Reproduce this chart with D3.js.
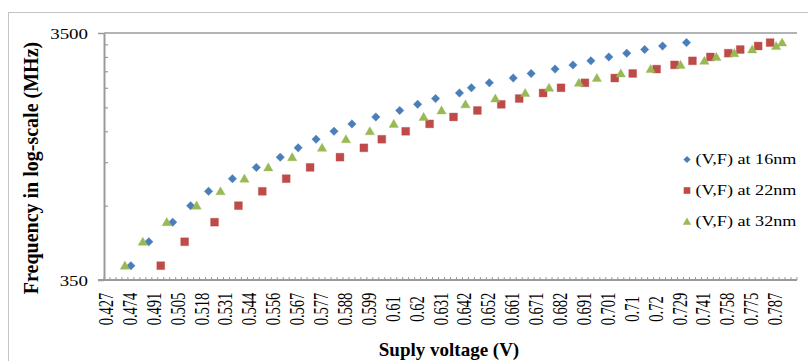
<!DOCTYPE html>
<html>
<head>
<meta charset="utf-8">
<script src="https://cdn.jsdelivr.net/npm/d3@7"></script>
<style>
  html, body { margin: 0; padding: 0; background: #ffffff; }
  svg { display: block; }
  text { font-family: "Liberation Serif", "Times New Roman", serif; fill: #000; }
</style>
</head>
<body>
<svg id="chart" width="808" height="361"></svg>
<script>
// ---------------- data ----------------
// Category axis: 116 voltage categories, every 4th is labelled
const categoryCount = 116;
const labelEvery = 4;
const xTickLabels = ["0.427","0.474","0.491","0.505","0.518","0.531","0.544","0.556","0.567",
  "0.577","0.588","0.599","0.61","0.62","0.631","0.642","0.652","0.661","0.671","0.682",
  "0.691","0.701","0.71","0.72","0.729","0.741","0.758","0.775","0.787"];

// Frequency levels (MHz) shared by all three series
const freqMHz = [400,500,600,700,800,900,1000,1100,1200,1300,1400,1500,1600,1700,1800,
  1900,2000,2100,2200,2300,2400,2500,2600,2700,2800,2900,3000,3100,3200];

// Category index (voltage position) of each point
const cat16nm = [4,7,11,14,17,21,25,29,32,35,38,41,45,49,52,55,59,61,64,68,71,75,78,81,84,87,90,93,97];
const cat22nm = [9,13,18,22,26,30,34,39,43,46,50,54,58,62,66,69,73,76,80,85,88,92,95,98,101,104,106,109,111];
const cat32nm = [3,6,10,15,19,23,27,31,36,40,44,48,53,56,60,65,70,74,79,82,86,91,96,100,102,105,108,112,113];

const seriesNames = ["(V,F) at 16nm","(V,F) at 22nm","(V,F) at 32nm"];
const seriesColors = ["#4A7EBB","#BE4B48","#98B954"];
const seriesShapes = ["diamond","square","triangle"];

const yMajorTicks = [350, 3500];
const yMinorTicks = [700,1050,1400,1750,2100,2450,2800,3150];

// ---------------- layout ----------------
const svg = d3.select("#chart");
const plot = {left: 104, right: 797, top: 33, bottom: 280};

const x = d3.scaleBand().domain(d3.range(categoryCount)).range([plot.left, plot.right]).padding(0);
const xEdge = d3.scaleLinear().domain([0, categoryCount]).range([plot.left, plot.right]);
const y = d3.scaleLog().domain([350, 3500]).range([plot.bottom, plot.top]);

const axisColor = "#9a9a9a";

// chart outer border (continues beyond the visible area)
svg.append("rect").attr("x", 8.5).attr("y", 12.5).attr("width", 900).attr("height", 400)
  .attr("fill", "none").attr("stroke", "#c4c4c4").attr("stroke-width", 1);

// horizontal major gridline at 3500
svg.append("line").attr("x1", plot.left).attr("x2", plot.right)
  .attr("y1", y(3500)).attr("y2", y(3500))
  .attr("stroke", axisColor).attr("stroke-width", 1.5);

// y axis (major ticks outward, labels)
const yAxisG = svg.append("g").attr("transform", `translate(${plot.left},0)`)
  .call(d3.axisLeft(y).tickValues(yMajorTicks).tickSize(6).tickSizeOuter(0).tickFormat(d3.format("d")));
yAxisG.select(".domain").attr("stroke", axisColor).attr("stroke-width", 2);
yAxisG.selectAll(".tick line").attr("stroke", axisColor).attr("stroke-width", 1.5);
yAxisG.selectAll(".tick text").remove();
yAxisG.selectAll(".tick").append("text")
  .attr("transform", "translate(-16,5) scale(1.26,1)")
  .attr("text-anchor", "end")
  .style("font-size", "15px")
  .text(d => d);

// y minor ticks (inward)
const yMinorG = svg.append("g").attr("transform", `translate(${plot.left},0)`)
  .call(d3.axisRight(y).tickValues(yMinorTicks).tickSize(4).tickFormat(""));
yMinorG.select(".domain").remove();
yMinorG.selectAll(".tick line").attr("stroke", axisColor).attr("stroke-width", 1.2);

// x axis line
svg.append("line").attr("x1", plot.left - 6).attr("x2", plot.right)
  .attr("y1", plot.bottom).attr("y2", plot.bottom)
  .attr("stroke", axisColor).attr("stroke-width", 2);

// x category tick marks (inward, at category boundaries)
svg.append("g").selectAll("line").data(d3.range(categoryCount + 1)).join("line")
  .attr("x1", d => xEdge(d)).attr("x2", d => xEdge(d))
  .attr("y1", plot.bottom).attr("y2", plot.bottom - 3)
  .attr("stroke", axisColor).attr("stroke-width", 1);

// x tick labels (rotated)
svg.append("g").selectAll("text").data(xTickLabels).join("text")
  .attr("transform", (d, i) => `translate(${x(i * labelEvery) + x.bandwidth() / 2 + 6},309) rotate(-90) scale(1,1.4)`)
  .attr("text-anchor", "middle")
  .style("font-size", "14.5px")
  .text(d => d);

// axis titles
svg.append("text").attr("x", 449).attr("y", 356).attr("text-anchor", "middle")
  .style("font-size", "19px").style("font-weight", "bold").text("Suply voltage (V)");
svg.append("text").attr("transform", "translate(38,168) rotate(-90)").attr("text-anchor", "middle")
  .style("font-size", "20px").style("font-weight", "bold").text("Frequency in log-scale (MHz)");

// ---------------- markers ----------------
function markerPath(shape) {
  if (shape === "diamond") return d3.symbol().type(d3.symbolSquare).size(36)();
  if (shape === "square") return d3.symbol().type(d3.symbolSquare).size(62)();
  return d3.symbol().type(d3.symbolTriangle).size(38)();
}
function markerTransform(shape, cx, cy) {
  if (shape === "diamond") return `translate(${cx},${cy}) rotate(45)`;
  if (shape === "triangle") return `translate(${cx},${cy + 0.8})`;
  return `translate(${cx},${cy})`;
}

const seriesCats = [cat16nm, cat22nm, cat32nm];
seriesCats.forEach((cats, s) => {
  const pts = cats.map((c, i) => ({c, f: freqMHz[i]}));
  svg.append("g").selectAll("path").data(pts).join("path")
    .attr("d", markerPath(seriesShapes[s]))
    .attr("transform", d => markerTransform(seriesShapes[s], x(d.c) + x.bandwidth() / 2, y(d.f)))
    .attr("fill", seriesColors[s])
    .attr("stroke", seriesColors[s]).attr("stroke-opacity", 0.45).attr("stroke-width", 0.8);
});

// ---------------- legend ----------------
const legendY = d3.scalePoint().domain(seriesNames).range([159.5, 221.5]);
const legend = svg.append("g");
seriesNames.forEach((name, s) => {
  const cy = legendY(name);
  legend.append("path")
    .attr("d", d3.symbol().type(seriesShapes[s] === "triangle" ? d3.symbolTriangle : d3.symbolSquare)
      .size(seriesShapes[s] === "diamond" ? 26 : seriesShapes[s] === "square" ? 44 : 30)())
    .attr("transform", markerTransform(seriesShapes[s], 687, cy))
    .attr("fill", seriesColors[s]);
  legend.append("text")
    .attr("transform", `translate(695.5,${cy + 4.8}) scale(1.21,1)`)
    .style("font-size", "15px")
    .text(name);
});
</script>
</body>
</html>
